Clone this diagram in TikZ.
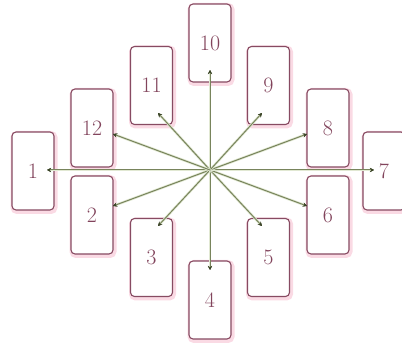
\documentclass[tikz,border=0pt]{standalone}
\usetikzlibrary{arrows.meta}
\definecolor{boxline}{RGB}{135,75,98}
\definecolor{glow}{RGB}{250,218,228}
\definecolor{numcol}{RGB}{130,68,92}
\definecolor{spoke}{RGB}{120,132,92}
\definecolor{spokeglow}{RGB}{225,232,210}
\definecolor{tipcol}{RGB}{60,70,40}
\begin{document}
\begin{tikzpicture}[x=1pt,y=-1pt,
  card/.style={draw=boxline, line width=1.1pt, rounded corners=4pt, fill=white,
    minimum width=42pt, minimum height=78pt, inner sep=0pt,
    text=numcol, font=\fontsize{22}{26}\selectfont,
    preaction={draw=glow, line width=5pt, rounded corners=5pt, transform canvas={xshift=1pt,yshift=-1.5pt}}},
  spk/.style={draw=spoke, line width=1pt, -{Stealth[length=4pt,width=4pt,color=tipcol]},
    preaction={draw=spokeglow, line width=2.5pt}}]
\useasboundingbox (0,0) rectangle (402,347);
\node[card] (b10) at (210,43) {10};
\node[card] (b11) at (151.5,85.5) {11};
\node[card] (b9) at (268.5,85.5) {9};
\node[card] (b12) at (92,128) {12};
\node[card] (b8) at (328,128) {8};
\node[card] (b1) at (33,171) {1};
\node[card] (b7) at (384,171) {7};
\node[card] (b2) at (92,215) {2};
\node[card] (b6) at (328,215) {6};
\node[card] (b3) at (151.5,257.5) {3};
\node[card] (b5) at (268.5,257.5) {5};
\node[card] (b4) at (210,300) {4};
\coordinate (c) at (210,170);
\coordinate (t1) at (47,170);
\coordinate (t2) at (113,206);
\coordinate (t3) at (158,226);
\coordinate (t4) at (210,270);
\coordinate (t5) at (262,226);
\coordinate (t6) at (307,206);
\coordinate (t7) at (374,170);
\coordinate (t8) at (307,134);
\coordinate (t9) at (262,113);
\coordinate (t10) at (210,70);
\coordinate (t11) at (158,113);
\coordinate (t12) at (113,134);
\foreach \i in {1,...,12} {\draw[spk] (c) -- (t\i);}
\end{tikzpicture}
\end{document}
